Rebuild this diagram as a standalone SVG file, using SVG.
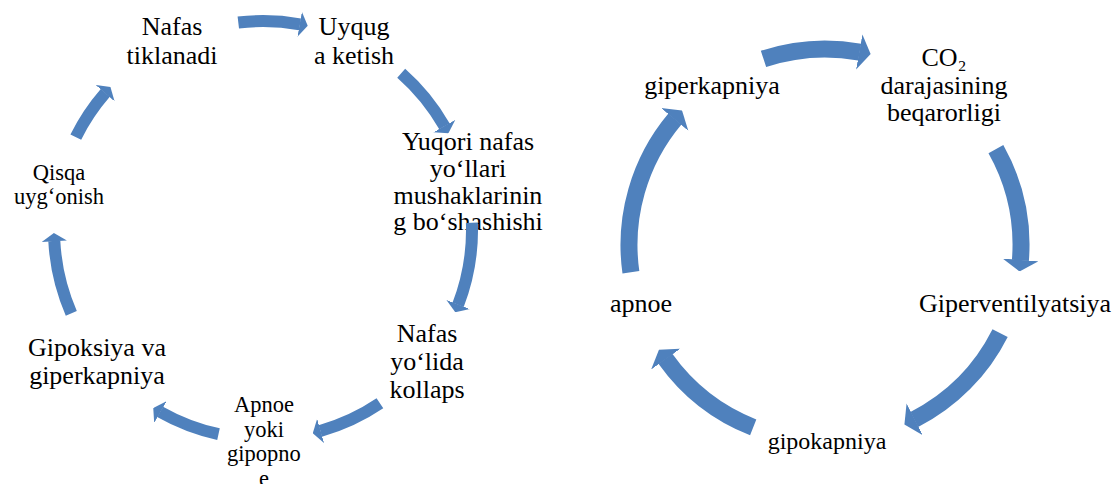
<svg xmlns="http://www.w3.org/2000/svg" width="1117" height="484" viewBox="0 0 1117 484">
<style>
text{font-family:"Liberation Serif","Times New Roman",serif;fill:#000;text-anchor:middle}
.f{font-size:26px}
.s{font-size:22.5px}
.m{font-size:24px}
.a{fill:none;stroke:#4F81BD;marker-end:url(#h)}
.l{stroke-width:12}
.r{stroke-width:17}
</style>
<defs>
<marker id="h" viewBox="0 0 10 20" refX="0.4" refY="10" markerWidth="0.68" markerHeight="2.1" markerUnits="strokeWidth" orient="auto" preserveAspectRatio="none">
<path d="M0,0 L10,10 L0,20 Z" fill="#4F81BD"/>
</marker>
</defs>
<rect width="1117" height="484" fill="#fff"/>
<g id="n1"><text class="f" x="172" y="35">Nafas</text><text class="f" x="172" y="64">tiklanadi</text></g>
<g id="n2"><text class="f" x="354" y="35">Uyqug</text><text class="f" x="354" y="64">a ketish</text></g>
<g id="n3"><text class="f" x="468" y="150">Yuqori nafas</text><text class="f" x="468" y="177">yo‘llari</text><text class="f" x="468" y="204">mushaklarinin</text><text class="f" x="468" y="230">g bo‘shashishi</text></g>
<g id="n4"><text class="f" x="427" y="342">Nafas</text><text class="f" x="427" y="370">yo‘lida</text><text class="f" x="427" y="398">kollaps</text></g>
<g id="n5"><text class="s" x="264" y="412">Apnoe</text><text class="s" x="264" y="436.5">yoki</text><text class="s" x="264" y="461">gipopno</text><text class="s" x="264" y="485.5">e</text></g>
<g id="n6"><text class="f" x="97" y="356">Gipoksiya va</text><text class="f" x="97" y="384">giperkapniya</text></g>
<g id="n7"><text class="s" x="59" y="180">Qisqa</text><text class="s" x="59" y="204">uyg‘onish</text></g>
<g id="m1"><text class="f" x="712" y="94">giperkapniya</text></g>
<g id="m2"><text class="f" x="944" y="66">CO₂</text><text class="f" x="944" y="94">darajasining</text><text class="f" x="944" y="121">beqarorligi</text></g>
<g id="m3"><text class="f" x="1015" y="312">Giperventilyatsiya</text></g>
<g id="m4"><text class="m" x="827" y="449">gipokapniya</text></g>
<g id="m5"><text class="f" x="641" y="312">apnoe</text></g>
<g id="connectors">
<path class="a l" d="M238.3,22.5 A209,209 0 0 1 300,24.3"/>
<path class="a l" d="M401.2,73.2 A209,209 0 0 1 444.5,126.4"/>
<path class="a l" d="M471.9,222.7 A209,209 0 0 1 458.1,304.9"/>
<path class="a l" d="M379.9,403.3 A209,209 0 0 1 320.3,431"/>
<path class="a l" d="M218.5,434.2 A209,209 0 0 1 160.1,411.9"/>
<path class="a l" d="M71.3,313.3 A209,209 0 0 1 54.3,240.9"/>
<path class="a l" d="M75.8,137.1 A209,209 0 0 1 105.3,92.9"/>
<path class="a r" d="M763.5,58.9 A196,196 0 0 1 859.7,52.1"/>
<path class="a r" d="M995.9,149.1 A196,196 0 0 1 1020.4,260.4"/>
<path class="a r" d="M1000.1,333.1 A196,196 0 0 1 914.3,419.5"/>
<path class="a r" d="M753.2,427.4 A196,196 0 0 1 665.4,358.8"/>
<path class="a r" d="M630.9,272.3 A196,196 0 0 1 674.9,119"/>
</g>
</svg>
